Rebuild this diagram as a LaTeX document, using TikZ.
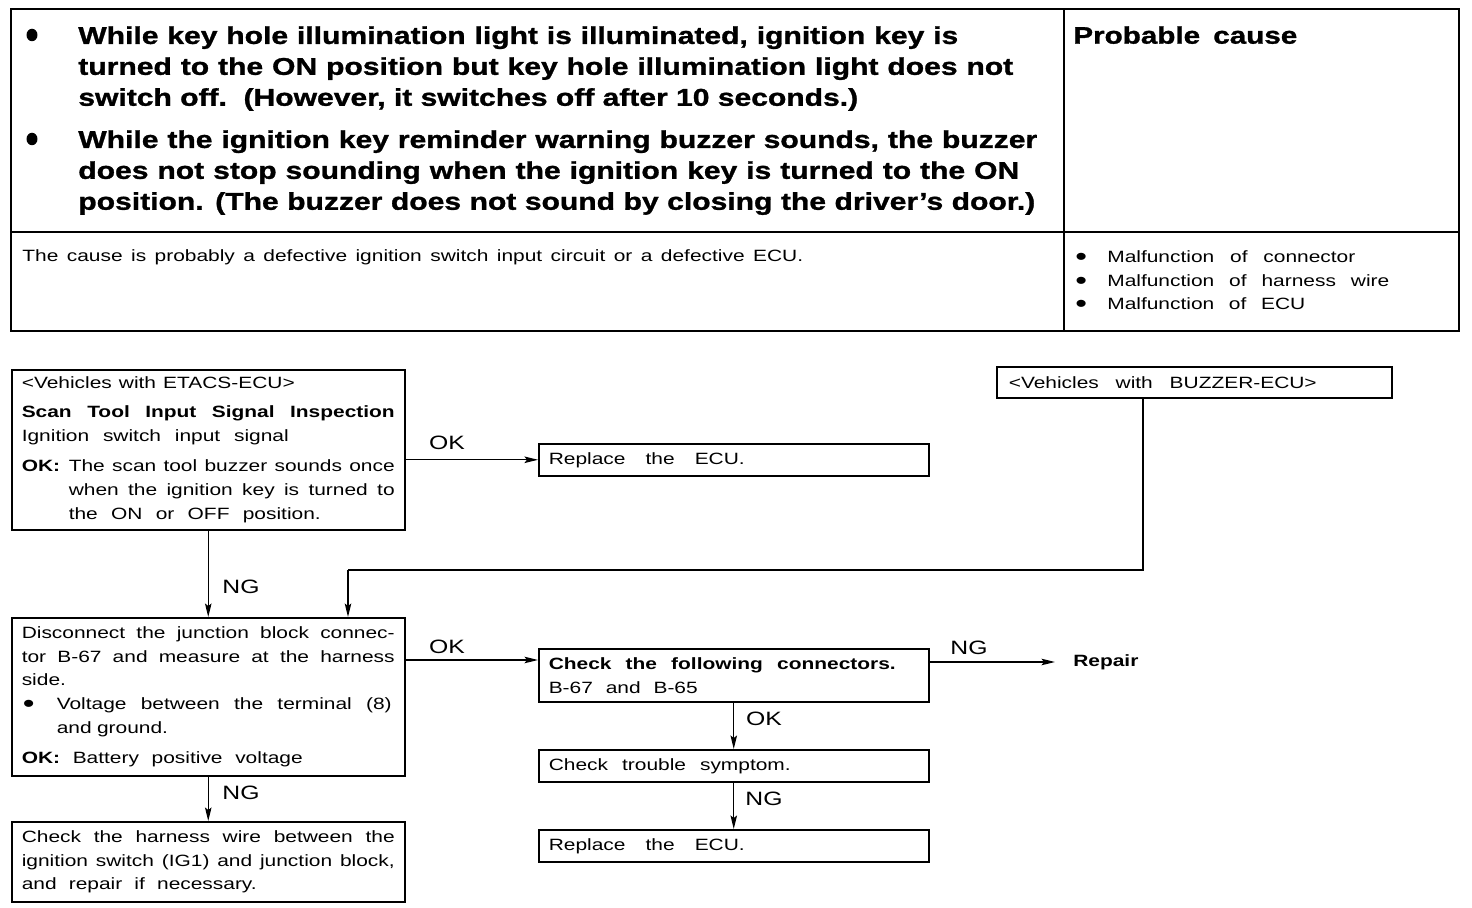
\documentclass[tikz,border=0pt]{standalone}
\usepackage{fontspec}
\setmainfont{Liberation Sans}[FakeStretch=1.28]
\newfontfamily\headfont{Liberation Sans Bold}[FakeStretch=1.24,FakeBold=1.2]
\usetikzlibrary{arrows.meta,positioning,calc}
\newcommand{\bodysize}{\fontsize{9.3}{13.6}\selectfont}
\newcommand{\headsize}{\headfont\fontsize{13.8}{17.6}\selectfont}
\newcommand{\fline}[2]{\makebox[#1][s]{\spaceskip=0pt\xspaceskip=0pt #2}}
\newcommand{\bul}{\raisebox{-0.18em}{\scalebox{1.6}{•}}}
\tikzset{
  flowbox/.style={draw=black,line width=0.9pt,anchor=north west,align=left,inner xsep=0.2cm,inner ysep=0.1cm,font=\bodysize},
  flowarrow/.style={-{Stealth[length=2.7mm,width=1.3mm,inset=0.5mm]},line width=0.75pt},
  flowline/.style={line width=0.75pt},
  answer/.style={font=\fontsize{11}{13}\selectfont,inner sep=0pt},
  headtext/.style={anchor=north west,inner sep=0pt,align=left,font=\headsize},
  celltext/.style={anchor=north west,inner sep=0pt,align=left,font=\bodysize},
  dotmark/.style={ellipse,fill=black,inner sep=0pt,minimum width=0.22cm,minimum height=0.25cm},
  ruleline/.style={line width=0.6pt}
}
\usetikzlibrary{shapes.geometric}

\begin{document}
\begin{tikzpicture}[x=0.02cm,y=-0.02cm]
\useasboundingbox (0,0) rectangle (1472,908);
% symptom table
\draw[line width=1.4pt] (11,9) rectangle (1459,331);
\draw[ruleline] (1064,9) -- (1064,331);
\draw[ruleline] (11,232) -- (1459,232);
\node[dotmark] (dotA) at (32,35) {};
\node[dotmark] (dotB) at (32,139) {};
\node[headtext] (symA) at (78,26) {\fline{17.6cm}{While key hole illumination light is illuminated, ignition key is}\\
  \fline{18.7cm}{turned to the ON position but key hole illumination light does not}\\
  \fline{15.6cm}{switch off.\ \ (However, it switches off after 10 seconds.)}};
\node[headtext] (symB) at (78,130) {\fline{19.18cm}{While the ignition key reminder warning buzzer sounds, the buzzer}\\
  \fline{18.82cm}{does not stop sounding when the ignition key is turned to the ON}\\
  \fline{19.14cm}{position. (The buzzer does not sound by closing the driver’s door.)}};
\node[headtext,font=\headfont\fontsize{13.6}{17.6}\selectfont] (cause) at (1073,26) {\fline{4.48cm}{Probable cause}};
\node[celltext] (remark) at (22,249) {\fline{15.62cm}{The cause is probably a defective ignition switch input circuit or a defective ECU.}};
\node[celltext] (causes) at (1073,250) {\makebox[0.68cm][l]{\hspace{0.04cm}\bul}\fline{4.96cm}{Malfunction of connector}\\
  \makebox[0.68cm][l]{\hspace{0.04cm}\bul}\fline{5.64cm}{Malfunction of harness wire}\\
  \makebox[0.68cm][l]{\hspace{0.04cm}\bul}\fline{3.96cm}{Malfunction of ECU}};

% flow
\node[flowbox,text width=7.46cm,minimum height=3.2cm] (etacs) at (11,369) {\fline{5.46cm}{<Vehicles with ETACS-ECU>}\\[2.5pt]
  \fline{7.46cm}{\bfseries Scan Tool Input Signal Inspection}\\
  \fline{5.34cm}{Ignition switch input signal}\\[3.5pt]
  \makebox[0.94cm][l]{\bfseries OK:}\fline{6.52cm}{The scan tool buzzer sounds once}\\
  \hspace*{0.94cm}\fline{6.52cm}{when the ignition key is turned to}\\
  \hspace*{0.94cm}\fline{5.04cm}{the ON or OFF position.}};
\node[flowbox,text width=7.4cm,minimum height=0.64cm] (replaceA) at (538,443) {\fline{3.92cm}{Replace the ECU.}};
\node[flowbox,text width=7.42cm,minimum height=0.62cm,inner xsep=0.24cm] (buzzer) at (996,366) {\fline{6.16cm}{<Vehicles with BUZZER-ECU>}};
\node[flowbox,text width=7.46cm,minimum height=3.16cm] (disc) at (11,617) {\fline{7.46cm}{Disconnect the junction block connec-}\\
  \fline{7.46cm}{tor B-67 and measure at the harness}\\
  side.\\
  \makebox[0.7cm][l]{\hspace{0.02cm}\bul}\fline{6.7cm}{Voltage between the terminal (8)}\\
  \hspace*{0.7cm}and ground.\\[3.5pt]
  \fline{5.62cm}{\textbf{OK:} Battery positive voltage}};
\node[flowbox,text width=7.46cm,minimum height=1.6cm] (harness) at (11,821) {\fline{7.46cm}{Check the harness wire between the}\\
  \fline{7.46cm}{ignition switch (IG1) and junction block,}\\
  \fline{4.7cm}{and repair if necessary.}};
\node[flowbox,text width=7.4cm,minimum height=1.06cm] (conn) at (538,648) {\fline{6.94cm}{\bfseries Check the following connectors.}\\
  \fline{2.98cm}{B-67 and B-65}};
\node[flowbox,text width=7.4cm,minimum height=0.64cm] (symptom) at (538,749) {\fline{4.84cm}{Check trouble symptom.}};
\node[flowbox,text width=7.4cm,minimum height=0.64cm] (replaceB) at (538,829) {\fline{3.92cm}{Replace the ECU.}};
\node[anchor=west,inner xsep=0.36cm,inner ysep=0pt,font=\bodysize\bfseries] (repair) at (1055,662) {\fline{1.34cm}{Repair}};

% connectors
\coordinate (okin) at ([yshift=-0.24cm]conn.north west);
\coordinate (bend) at (1143,570);
\coordinate (join) at (348,570);
\draw[flowarrow] (etacs.east |- replaceA.west) -- (replaceA.west);
\draw[flowarrow] (etacs.south) -- (disc.north);
\draw[flowline] (buzzer.south -| bend) -- (bend) -- (join);
\draw[flowarrow] (join) -- (join |- disc.north);
\draw[flowarrow] (disc.east |- okin) -- (okin);
\draw[flowarrow] (disc.south) -- (harness.north);
\draw[flowarrow] (conn.east |- repair.west) -- (repair.west);
\draw[flowarrow] (conn.south) -- (symptom.north);
\draw[flowarrow] (symptom.south) -- (replaceB.north);
\node[answer] (okA) at (447,443) {OK};
\node[answer] (ngA) at (241,587) {NG};
\node[answer] (okB) at (447,647) {OK};
\node[answer] (ngB) at (241,793) {NG};
\node[answer] (ngC) at (969,648) {NG};
\node[answer] (okC) at (764,719) {OK};
\node[answer] (ngD) at (764,799) {NG};
\end{tikzpicture}
\end{document}
